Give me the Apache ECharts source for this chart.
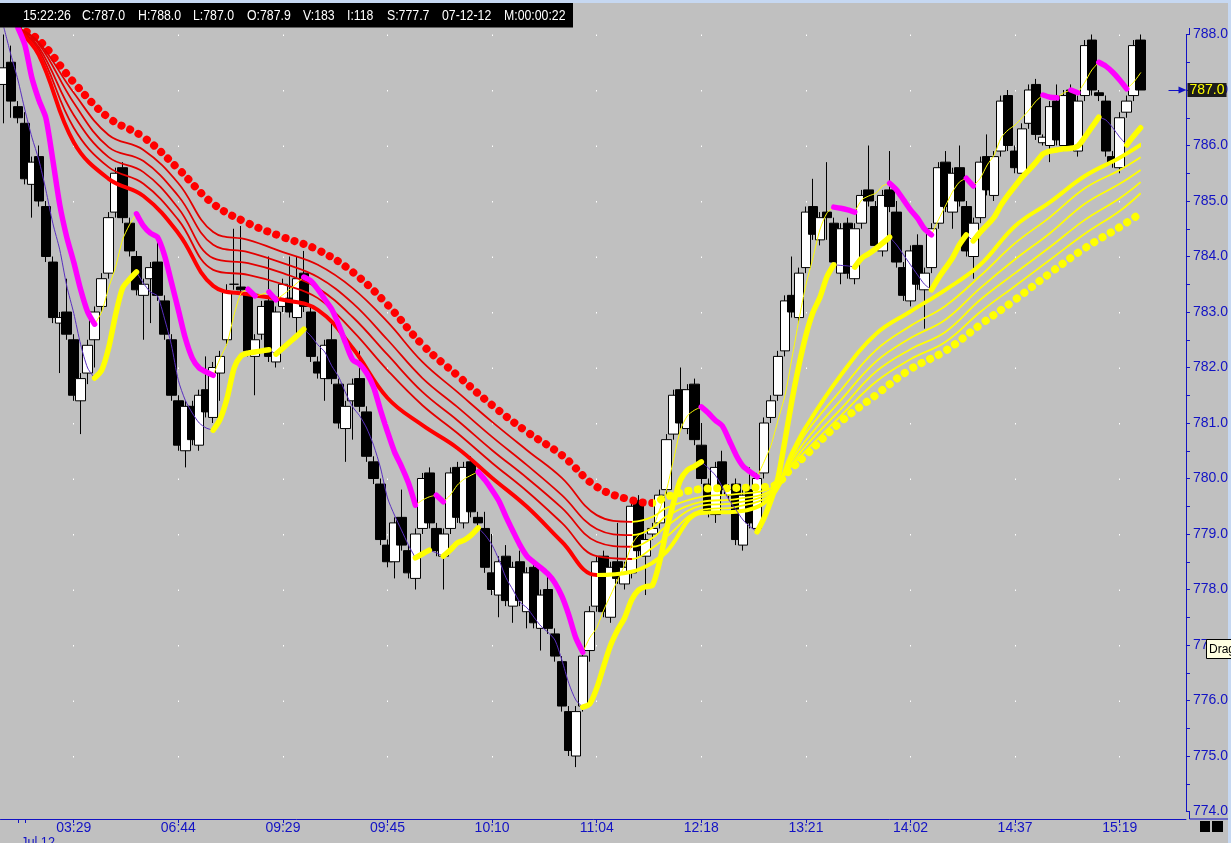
<!DOCTYPE html>
<html><head><meta charset="utf-8">
<script src="https://cdn.jsdelivr.net/npm/echarts@6/dist/echarts.min.js"></script>
<style>html,body{margin:0;padding:0;background:#c0c0c0;}#c{width:1231px;height:843px;}</style>
</head><body><div id="c"></div>
<script>
// ---------- data ----------
const tickIdx = [10,25,40,55,70,85,100,115,130,145,160];
const tickLabels = ['03:29','06:44','09:29','09:45','10:10','11:04','12:18','13:21','14:02','14:37','15:19'];
const dateTickIdx = [2,3];
const dateLabel = 'Jul 12';
const infoFields = ['15:22:26','C:787.0','H:788.0','L:787.0','O:787.9','V:183','I:118','S:777.7','07-12-12','M:00:00:22'];

const open = [
787.1,787.5,786.7,786.4,785.3,785.8,784.9,783.9,782.8,783.0,
782.5,781.4,781.9,782.5,783.1,783.7,784.8,785.6,784.6,784.0,
783.3,783.6,783.9,783.2,782.5,781.4,780.5,781.3,780.6,781.6,
781.1,781.9,782.5,783.5,783.45,783.35,782.2,782.6,783.2,782.1,
783.1,783.25,782.9,783.7,783.0,782.1,781.8,782.5,781.7,780.9,
781.4,781.8,781.2,780.3,779.9,778.8,778.5,779.3,778.7,778.2,
779.1,780.1,779.1,778.6,779.1,780.2,779.2,780.3,779.3,779.1,
778.3,777.9,778.6,777.7,778.5,777.6,778.4,777.3,778.0,777.2,
776.7,775.8,775.0,775.9,776.9,777.7,778.6,777.5,778.5,778.1,
778.3,779.6,778.6,779.0,779.2,779.8,780.8,781.6,780.9,781.7,
780.6,779.9,779.35,780.3,779.7,779.9,778.8,779.8,779.1,780.1,
781.1,781.5,782.3,783.3,782.9,783.8,784.9,784.3,784.8,784.6,
783.7,784.6,783.6,784.6,785.2,784.9,784.1,785.2,784.8,783.8,
783.2,784.2,783.4,783.8,784.6,785.7,784.8,785.6,784.9,784.0,
784.7,785.8,785.1,785.9,786.9,785.9,785.5,786.4,787.1,786.05,
786.0,786.8,786.0,787.0,785.9,786.9,787.9,786.95,786.8,785.8,
785.6,786.6,786.9,787.9];
const close = [
787.4,786.8,786.5,785.4,785.7,785.0,784.0,782.9,782.9,782.6,
781.5,781.8,782.4,783.0,783.6,784.7,785.5,784.7,784.1,783.4,
783.5,783.8,783.3,782.6,781.5,780.6,781.3,780.7,781.5,781.2,
782.0,782.2,783.35,783.5,783.4,782.3,782.5,783.1,782.2,783.0,
783.5,783.0,783.6,783.1,782.2,781.9,782.4,781.8,781.0,781.3,
781.7,781.3,780.4,780.0,778.9,778.5,779.2,778.8,778.3,779.0,
780.0,779.2,778.7,779.0,780.1,779.3,780.2,779.4,779.2,778.4,
778.0,778.5,777.8,778.4,777.8,778.3,777.4,777.9,777.3,776.8,
775.9,775.1,775.8,776.8,777.6,778.5,777.6,778.4,778.2,778.4,
779.5,778.7,778.9,779.1,779.7,780.7,781.5,781.0,781.6,780.7,
780.0,779.4,780.2,779.8,779.8,778.9,779.7,779.2,780.0,781.0,
781.4,782.2,783.2,783.0,783.7,784.8,784.4,784.7,784.7,783.9,
784.5,783.7,784.5,785.1,785.0,784.2,785.1,784.9,783.9,783.3,
784.1,783.5,783.7,784.5,785.6,784.9,785.5,785.0,784.1,784.6,
785.7,785.2,785.8,786.8,786.0,785.6,786.3,787.0,786.2,786.15,
786.7,786.1,786.9,785.95,786.8,787.8,787.0,786.9,785.9,785.7,
786.5,786.8,787.8,787.0];
const low = [
786.4,786.5,786.4,785.3,784.7,784.9,783.9,782.8,781.9,782.5,
781.4,780.8,781.7,782.0,783.0,783.6,784.7,784.6,784.0,783.3,
782.5,782.8,783.2,782.5,781.4,780.5,780.2,780.6,780.5,781.1,
781.0,781.4,782.4,783.4,783.3,782.2,781.5,782.5,782.1,782.0,
783.0,782.9,782.6,783.0,782.1,781.8,781.4,781.7,780.9,780.3,
780.7,781.2,780.3,779.9,778.8,778.4,778.2,778.7,778.2,778.0,
779.0,779.1,778.6,778.0,779.0,779.2,779.1,779.3,779.1,778.3,
777.9,777.5,777.7,777.4,777.7,777.3,777.3,776.9,777.2,776.7,
775.8,775.0,774.8,775.8,776.7,777.6,777.5,777.4,778.1,778.0,
778.2,778.6,777.9,778.9,779.1,779.7,780.7,780.9,780.8,780.6,
779.9,779.3,779.2,779.7,779.6,778.8,778.7,779.1,779.0,780.0,
781.0,781.4,782.2,782.9,782.8,783.7,784.3,784.2,784.3,783.8,
783.5,783.6,783.5,784.5,784.9,784.1,784.0,784.8,783.8,783.2,
783.1,783.4,782.7,783.7,784.5,784.8,784.5,784.9,784.0,783.6,
784.6,785.1,785.0,785.8,785.9,785.5,785.4,786.3,786.1,786.0,
785.7,786.0,785.9,785.9,785.8,786.8,786.9,786.8,785.8,785.6,
785.5,786.5,786.8,787.0];
const high = [
788.0,787.8,786.8,786.6,785.8,786.0,785.0,784.0,783.0,783.6,
782.6,781.9,782.5,783.1,783.7,784.8,785.6,785.7,784.7,784.1,
783.6,783.9,784.3,783.3,782.6,781.5,781.4,781.4,781.6,782.2,
782.1,782.3,783.5,784.5,784.55,783.4,782.6,783.2,784.0,783.1,
783.6,784.0,784.0,784.1,783.1,782.2,782.5,782.8,781.8,781.4,
781.8,782.3,781.3,780.4,780.0,778.9,779.3,779.8,778.8,779.1,
780.1,780.2,779.2,779.1,780.2,780.3,780.3,780.4,779.4,779.4,
779.0,778.6,778.8,778.5,778.7,778.4,778.5,778.0,778.3,777.3,
776.8,775.9,775.9,776.9,777.7,778.6,778.7,778.5,779.2,778.5,
779.6,779.7,779.0,779.2,779.8,780.8,781.6,782.0,781.7,781.8,
781.0,780.0,780.3,780.5,779.9,780.0,779.8,780.2,780.1,781.1,
781.5,782.3,783.3,784.0,783.8,784.9,785.4,784.8,785.7,784.7,
784.6,784.7,784.6,785.2,786.0,785.0,785.2,785.9,785.0,783.9,
784.2,784.4,783.8,784.6,785.7,785.9,785.6,786.0,785.0,784.7,
785.8,786.2,785.9,786.9,787.0,786.0,786.4,787.1,787.2,786.2,
786.8,787.1,787.0,787.1,786.9,787.9,788.0,787.0,786.9,785.9,
786.6,786.9,787.9,788.0];

// fast band of highs (magenta falling / thin yellow rising)
const hiBand = [
null,null,788.12,787.81,787.22,786.82,786.50,785.74,784.93,784.35,
783.90,783.40,783.00,782.78,783.00,783.43,783.81,784.30,784.57,784.77,
784.55,784.42,784.35,784.03,783.54,783.04,782.53,782.17,781.99,781.92,
781.86,782.17,782.44,782.95,783.34,783.41,783.29,783.32,783.36,783.22,
783.31,783.41,783.52,783.63,783.56,783.41,783.23,783.05,782.77,782.44,
782.14,782.06,781.90,781.65,781.23,780.84,780.48,780.22,779.92,779.52,
779.61,779.67,779.70,779.58,779.70,779.88,779.99,780.06,780.12,779.97,
779.79,779.59,779.31,779.05,778.80,778.60,778.49,778.39,778.28,778.12,
777.88,777.54,777.13,776.87,777.13,777.31,777.63,777.90,778.17,778.44,
778.80,778.98,779.05,779.11,779.43,779.79,780.33,780.87,781.13,781.23,
781.29,781.18,781.05,780.95,780.69,780.42,780.22,780.12,780.03,780.30,
780.60,781.05,781.50,782.17,782.86,783.49,783.97,784.48,784.78,784.89,
784.87,784.84,784.80,785.02,785.09,785.14,785.27,785.32,785.20,785.02,
784.84,784.69,784.50,784.39,784.66,784.91,785.16,785.34,785.41,785.27,
785.41,785.65,785.83,786.14,786.28,786.37,786.50,786.64,786.80,786.91,
786.87,786.86,786.95,787.00,786.95,787.14,787.36,787.50,787.43,787.32,
787.18,787.02,787.14,787.31];
// fast band of lows (thick yellow rising / thin purple falling)
const loBand = [
788.12,787.63,787.18,786.64,786.15,785.74,785.20,784.60,784.12,783.47,
782.98,782.41,781.99,781.81,781.95,782.35,782.95,783.43,783.59,783.72,
783.52,783.36,783.29,782.89,782.41,781.77,781.41,781.18,781.00,780.91,
780.87,781.07,781.45,781.99,782.21,782.26,782.28,782.30,782.32,782.24,
782.35,782.46,782.57,782.69,782.57,782.41,782.28,782.03,781.83,781.54,
781.29,781.13,780.91,780.60,780.19,779.65,779.34,779.07,778.80,778.57,
778.64,778.71,778.66,778.60,778.71,778.84,778.89,778.98,779.11,778.98,
778.80,778.53,778.21,777.99,777.77,777.67,777.50,777.34,777.23,777.09,
776.73,776.31,776.01,775.88,775.94,776.22,776.62,777.00,777.27,777.49,
777.81,777.99,778.05,778.08,778.49,779.07,779.56,779.97,780.15,780.22,
780.30,780.19,780.06,779.85,779.61,779.43,779.25,779.13,779.04,779.29,
779.61,780.01,780.69,781.41,782.04,782.58,782.99,783.26,783.63,783.85,
783.84,783.83,783.81,783.97,784.05,784.14,784.24,784.35,784.21,784.03,
783.85,783.67,783.50,783.40,783.61,783.79,783.97,784.21,784.39,784.28,
784.44,784.57,784.71,784.93,785.11,785.27,785.43,785.56,785.70,785.85,
785.90,785.92,785.94,785.95,785.99,786.15,786.33,786.51,786.46,786.32,
786.15,786.01,786.17,786.32];

// ribbon of averages, read at these bars
const ribbonIdx = [2,5,10,15,20,25,30,35,40,45,50,55,60,65,70,75,80,85,90,93,95,100,105,110,113,115,120,125,130,135,140,145,150,155,160,163];
const ema1 = [788.08,787.63,786.06,785.40,785.09,784.42,783.47,783.32,783.22,783.04,782.35,781.45,780.96,780.55,780.01,779.49,778.86,778.26,778.32,778.48,778.68,779.38,779.40,779.67,780.46,780.93,781.86,782.60,783.01,783.40,783.85,784.55,784.98,785.45,785.78,786.01];
const ema2 = [788.10,787.72,786.32,785.61,785.31,784.66,783.76,783.67,783.50,783.25,782.66,781.95,781.32,780.82,780.28,779.77,779.20,778.60,778.55,778.75,778.95,779.43,779.49,779.72,780.37,780.82,781.59,782.31,782.75,783.11,783.65,784.24,784.71,785.23,785.56,785.79];
const ema3 = [788.10,787.77,786.55,785.79,785.52,784.87,783.97,783.88,783.70,783.43,782.91,782.23,781.56,781.05,780.51,780.01,779.47,778.86,778.77,778.93,779.14,779.51,779.56,779.76,780.32,780.69,781.41,782.10,782.53,782.86,783.43,783.95,784.42,784.95,785.31,785.56];
const ema4 = [788.12,787.83,786.77,785.97,785.72,785.09,784.21,784.08,783.88,783.63,783.16,782.50,781.81,781.29,780.75,780.24,779.70,779.09,778.98,779.11,779.32,779.58,779.63,779.79,780.26,780.59,781.25,781.92,782.33,782.64,783.22,783.70,784.17,784.66,785.05,785.34];
const ema5 = [788.12,787.86,786.95,786.19,785.92,785.32,784.44,784.30,784.08,783.85,783.43,782.82,782.10,781.56,781.02,780.51,780.01,779.34,779.22,779.31,779.47,779.67,779.72,779.83,780.23,780.50,781.13,781.74,782.15,782.46,783.00,783.47,783.94,784.41,784.82,785.14];
const ema6 = [788.12,787.90,787.14,786.50,786.15,785.58,784.95,784.60,784.35,784.12,783.72,783.13,782.41,781.86,781.32,780.84,780.42,779.85,779.61,779.56,779.67,779.81,779.83,779.86,780.19,780.42,781.02,781.50,781.97,782.30,782.77,783.22,783.70,784.15,784.53,784.78];

// ---------- chart ----------
const BLUE = '#1212c4', RED = '#ff0000', RED2 = '#e40000', YEL = '#ffff00', MAG = '#ff00ff', PUR = '#5a2fbf';
const FONT = "'Liberation Sans',Arial,sans-serif";
const N_CAT = 170;
const cats = Array.from({length: N_CAT}, (_, i) => String(i));
const candles = open.map((o, i) => [o, close[i], low[i], high[i]]);

function buildRuns(vals) {
  const runs = []; let cur = null;
  for (let i = 0; i < vals.length - 1; i++) {
    const a = vals[i], b = vals[i + 1];
    if (a == null || b == null) { cur = null; continue; }
    const up = b >= a;
    if (!cur || cur.up !== up) { cur = {up, pts: [[i, a]]}; runs.push(cur); }
    cur.pts.push([i + 1, b]);
  }
  return runs;
}
function slopePieces(idx, vals, redColor) {
  const p = [];
  for (let k = 0; k < idx.length - 1; k++) {
    const color = vals[k + 1] >= vals[k] ? YEL : redColor;
    const last = k === idx.length - 2;
    p.push(last ? {gte: idx[k], lte: idx[k + 1], color} : {gte: idx[k], lt: idx[k + 1], color});
  }
  return p;
}

const series = [];
const visualMaps = [];
const lastClose = close[close.length - 1];
series.push({
  type: 'candlestick', data: candles, barWidth: 10, clip: false, silent: true, z: 2,
  itemStyle: {color: '#ffffff', color0: '#000000', borderColor: '#000000', borderColor0: '#000000', borderWidth: 1},
  markLine: {
    silent: true, animation: false, symbol: ['none', 'triangle'], symbolSize: [7, 8],
    lineStyle: {color: BLUE, width: 1, type: 'solid'},
    label: {show: true, position: 'end', distance: 5, formatter: () => lastClose.toFixed(1),
      color: '#ffff00', backgroundColor: '#1c1c1c', padding: [1, 2, 0, 2], lineHeight: 13, fontSize: 14, fontFamily: FONT},
    data: [[{coord: [167, lastClose]}, {coord: [169, lastClose]}]]
  }
});

const ribbonDefs = [
  {vals: ema6, width: 8, type: [0.1, 9.5], cap: 'round', red: RED},
  {vals: ema5, width: 1.8, red: RED2}, {vals: ema4, width: 1.8, red: RED2},
  {vals: ema3, width: 1.8, red: RED2}, {vals: ema2, width: 1.8, red: RED2},
  {vals: ema1, width: 4, cap: 'round', red: RED}
];
ribbonDefs.forEach(d => {
  const si = series.length;
  series.push({
    type: 'line', data: ribbonIdx.map((x, k) => [x, d.vals[k]]), symbol: 'none', smooth: 0.4,
    clip: false, silent: true, z: 3,
    lineStyle: {width: d.width, type: d.type || 'solid', cap: d.cap || 'butt', join: 'round'}
  });
  visualMaps.push({type: 'piecewise', show: false, dimension: 0, seriesIndex: si, pieces: slopePieces(ribbonIdx, d.vals, d.red)});
});

const hiRuns = buildRuns(hiBand), loRuns = buildRuns(loBand);
const thin = [], thick = [];
hiRuns.forEach(r => (r.up ? thin : thick).push({pts: r.pts, color: r.up ? YEL : MAG, width: r.up ? 1 : 5.5}));
loRuns.forEach(r => (r.up ? thick : thin).push({pts: r.pts, color: r.up ? YEL : PUR, width: r.up ? 5.5 : 1}));
thin.concat(thick).forEach(r => series.push({
  type: 'line', data: r.pts, symbol: 'none', smooth: 0.25, clip: false, silent: true, z: r.width > 2 ? 5 : 4,
  lineStyle: {color: r.color, width: r.width, cap: 'round', join: 'round'}
}));

const labelSet = new Set(tickIdx);
const tickSet = new Set(tickIdx.concat(dateTickIdx));

const graphics = [
  {type: 'rect', shape: {x: 0, y: 0, width: 1231, height: 3}, style: {fill: '#c6d8f2'}, z: 100, silent: true},
  {type: 'rect', shape: {x: 1228, y: 0, width: 3, height: 843}, style: {fill: '#c6d8f2'}, z: 100, silent: true},
  {type: 'rect', shape: {x: 0, y: 3, width: 573, height: 24.5}, style: {fill: '#000000'}, z: 100, silent: true},
  {type: 'line', shape: {x1: 1189.5, y1: 819, x2: 1228, y2: 819}, style: {stroke: BLUE, lineWidth: 1}, z: 100, silent: true},
  {type: 'line', shape: {x1: 1189.5, y1: 28, x2: 1189.5, y2: 34.5}, style: {stroke: BLUE, lineWidth: 1}, z: 100, silent: true},
  {type: 'line', shape: {x1: 1189.5, y1: 811.5, x2: 1189.5, y2: 819}, style: {stroke: BLUE, lineWidth: 1}, z: 100, silent: true},
  {type: 'rect', shape: {x: 1206.5, y: 639.5, width: 26, height: 19}, style: {fill: '#ffffe1', stroke: '#000', lineWidth: 1}, z: 101, silent: true},
  {type: 'text', x: 1209, y: 649.5, style: {text: 'Drag', fill: '#000', font: "12px 'Liberation Sans',Arial,sans-serif", verticalAlign: 'middle'}, z: 102, silent: true},
  {type: 'rect', shape: {x: 1200, y: 821, width: 10, height: 11}, style: {fill: '#000'}, z: 100, silent: true},
  {type: 'rect', shape: {x: 1212, y: 821, width: 11, height: 11}, style: {fill: '#000'}, z: 100, silent: true},
  {type: 'text', x: 21, y: 835, scaleX: 0.85, style: {text: dateLabel, fill: BLUE, font: '15px ' + FONT}, z: 100, silent: true}
];
const infoX = [23, 82, 138, 193, 247, 303, 347, 387, 442, 504];
infoFields.forEach((t, k) => graphics.push({type: 'text', x: infoX[k], y: 16, scaleX: 0.82, z: 101, silent: true,
  style: {text: t, fill: '#ffffff', font: '15px ' + FONT, verticalAlign: 'middle'}}));

const chart = echarts.init(document.getElementById('c'), null, {renderer: 'canvas'});
chart.setOption({
  animation: false,
  backgroundColor: '#c0c0c0',
  grid: {left: 0.5, top: 34.5, width: 1189, height: 777, containLabel: false},
  xAxis: {
    type: 'category', data: cats, boundaryGap: true, offset: 7.5,
    axisLine: {show: true, lineStyle: {color: BLUE, width: 1}},
    axisTick: {show: true, alignWithLabel: true, length: 4, interval: (i) => tickSet.has(i), lineStyle: {color: BLUE}},
    axisLabel: {interval: (i) => labelSet.has(i), formatter: (v) => tickLabels[tickIdx.indexOf(Number(v))] || '',
      color: BLUE, fontSize: 14, fontFamily: FONT, margin: 2},
    splitLine: {show: true, alignWithLabel: true, interval: (i) => labelSet.has(i), lineStyle: {color: '#ffffff', width: 1, type: [1.5, 54]}}
  },
  yAxis: {
    type: 'value', position: 'right', min: 774, max: 788, interval: 0.5,
    axisLine: {show: true, lineStyle: {color: BLUE, width: 1}},
    axisTick: {show: true, length: 4, lineStyle: {color: BLUE}},
    axisLabel: {formatter: (v) => Math.abs(v - Math.round(v)) < 1e-6 ? v.toFixed(1) : '', color: BLUE, fontSize: 14, fontFamily: FONT, margin: 7},
    splitLine: {show: false}
  },
  visualMap: visualMaps,
  series: series,
  graphic: graphics
});
</script></body></html>
